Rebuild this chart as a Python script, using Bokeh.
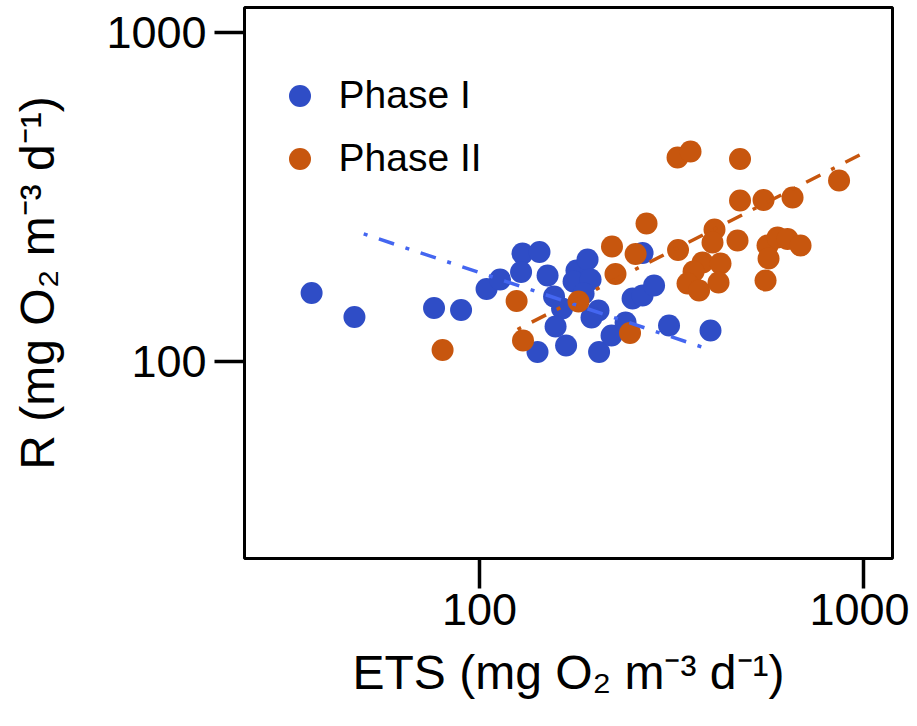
from bokeh.plotting import figure
from bokeh.models import Range1d, FixedTicker, BasicTickFormatter, Legend, LegendItem
from bokeh.embed import file_html
from bokeh.resources import INLINE

# ---------------- data ----------------
phase1_ets = [36.5, 47.2, 76.1, 89.5, 104.3, 113.1, 129.4, 143.3, 128.3, 150.4, 156.4,
              164.1, 157.8, 141.6, 168.1, 178.9, 175.8, 191.2, 194.7, 186.7, 204.2, 195.8,
              204.9, 220.8, 240.2, 250.5, 266.0, 285.0, 266.0, 311.8, 399.9]
phase1_r = [161.2, 136.3, 145.1, 143.1, 165.8, 177.1, 212.5, 214.7, 186.7, 182.2, 157.2,
            144.6, 127.5, 106.7, 111.6, 188.7, 174.7, 203.8, 177.1, 160.6, 142.6, 135.8,
            106.7, 119.7, 131.1, 155.1, 158.4, 169.9, 213.2, 128.4, 124.0]

phase2_ets = [80.1, 124.9, 129.8, 181.1, 221.4, 226.1, 255.1, 272.4, 246.7, 328.1, 354.7,
              477.4, 477.4, 549.8, 654.3, 864.9, 409.6, 404.7, 470.3, 329.1, 381.3, 424.6,
              361.2, 348.4, 373.4, 419.6, 563.1, 598.0, 634.9, 686.5, 566.5, 556.4]
phase2_r = [108.2, 152.4, 115.6, 151.9, 223.2, 184.1, 211.8, 262.2, 121.8, 416.0, 434.0,
            411.7, 307.8, 309.0, 314.4, 354.2, 251.3, 229.5, 232.7, 217.8, 199.5, 198.1,
            187.4, 172.3, 164.0, 173.5, 224.7, 237.7, 235.2, 224.7, 205.2, 176.0]

fit1_ets = [49.9, 397.6]
fit1_r = [243.9, 108.5]
fit2_ets = [125.6, 1002.0]
fit2_r = [124.9, 429.3]

x_ticks = [100, 1000]
y_ticks = [100, 1000]
x_lim = [24.4, 1192.0]
y_lim = [25.14, 1188.8]
legend_labels = ["Phase I", "Phase II"]
x_title = "ETS (mg O\u2082 m\u207b\u00b3 d\u207b\u00b9)"
y_title = "R (mg O\u2082 m\u207b\u00b3 d\u207b\u00b9)"

# ---------------- styling ----------------
BLUE = "#2F4DC6"
ORANGE = "#C7560E"
BLUE_LINE = "#4466F0"
FONT = "Liberation Sans"

p = figure(width=909, height=718,
           x_axis_type="log", y_axis_type="log",
           x_range=Range1d(*x_lim), y_range=Range1d(*y_lim),
           output_backend="svg", toolbar_location=None,
           min_border_left=244, min_border_right=17,
           min_border_top=7, min_border_bottom=160)
p.background_fill_color = "white"
p.border_fill_color = "white"
p.xgrid.visible = False
p.ygrid.visible = False
p.outline_line_color = "black"
p.outline_line_width = 3
p.outline_line_alpha = 1.0

for ax, ticks in ((p.xaxis, x_ticks), (p.yaxis, y_ticks)):
    ax.ticker = FixedTicker(ticks=ticks, minor_ticks=[])
    ax.formatter = BasicTickFormatter()
    ax.axis_line_color = None
    ax.major_tick_out = 30
    ax.major_tick_in = 0
    ax.minor_tick_out = 0
    ax.minor_tick_in = 0
    ax.major_tick_line_width = 3.5
    ax.major_tick_line_color = "black"
    ax.major_label_text_font = FONT
    ax.major_label_text_font_size = "45px"
    ax.major_label_text_color = "black"
    ax.axis_label_text_font = FONT
    ax.axis_label_text_font_style = "normal"
    ax.axis_label_text_color = "black"
p.xaxis.major_label_standoff = 5
p.yaxis.major_label_standoff = 8
p.xaxis.axis_label = x_title
p.yaxis.axis_label = y_title
p.xaxis.axis_label_text_font_size = "48px"
p.yaxis.axis_label_text_font_size = "48px"
p.xaxis.axis_label_standoff = 18
p.yaxis.axis_label_standoff = 39

r1 = p.scatter(phase1_ets, phase1_r, size=22, fill_color=BLUE, line_color=None)
r2 = p.scatter(phase2_ets, phase2_r, size=22, fill_color=ORANGE, line_color=None)
p.line(fit1_ets, fit1_r, line_color=BLUE_LINE, line_width=3.5, line_dash="4 12 16 12")
p.line(fit2_ets, fit2_r, line_color=ORANGE, line_width=3.5, line_dash="4 12 16 12")

legend = Legend(items=[LegendItem(label=legend_labels[0], renderers=[r1]),
                       LegendItem(label=legend_labels[1], renderers=[r2])],
                location=(27.5, 372.5), margin=0, padding=0, spacing=8,
                glyph_width=55, glyph_height=55, label_standoff=12,
                label_text_font=FONT, label_text_font_size="39px",
                label_text_color="black",
                border_line_color=None, background_fill_alpha=0)
p.add_layout(legend)

open("out.html", "w").write(file_html(p, INLINE))
